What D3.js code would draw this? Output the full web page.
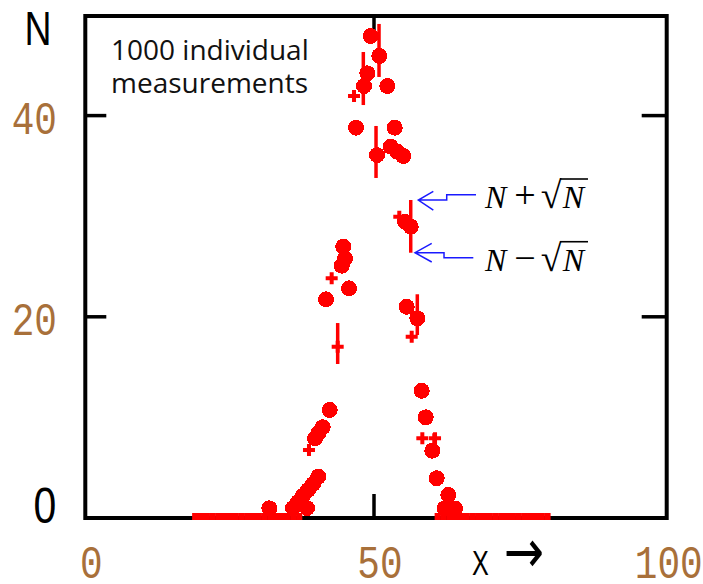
<!DOCTYPE html>
<html>
<head>
<meta charset="utf-8">
<script src="https://cdn.jsdelivr.net/npm/d3@7"></script>
<style>
  body { margin: 0; background: #fff; }
</style>
</head>
<body>
<div id="chart"></div>
<script>
// filled dots (x, N)
const dotX = [49.43, 50.92, 48.84, 48.27, 52.30, 46.88, 53.59, 50.52, 52.89, 54.04, 55.07,
              55.37, 56.36, 44.68, 44.98, 44.41, 45.67, 41.69, 55.66, 57.50,
              58.26, 58.95, 60.10, 60.86, 62.87, 62.21, 64.03,
              42.33, 41.11, 40.35, 39.78, 40.35, 39.44, 38.57, 37.70, 36.84, 35.97, 38.40, 31.87];
const dotN = [47.91, 45.93, 44.20, 42.94, 42.94, 38.80, 38.80, 36.08, 36.91, 36.41, 35.98,
              29.45, 28.96, 26.97, 25.81, 25.08, 22.83, 21.74, 21.00, 19.85,
              12.65, 10.01, 6.69, 3.95, 2.29, 0.95, 0.95,
              10.74, 9.02, 8.42, 7.92, 4.11, 3.38, 2.78, 2.19, 1.59, 0.99, 0.99, 0.96];

// small crosses (x, N)
const plusX = [46.54, 54.38, 42.67, 43.71, 56.53, 58.37, 60.57, 38.74];
const plusN = [41.95, 29.95, 23.83, 17.03, 18.02, 7.92, 7.92, 6.76];

// error bars (x, low, high)
const errX  = [50.87, 48.15, 50.35, 56.36, 43.71, 57.50, 60.39];
const errLo = [43.84, 41.05, 33.80, 26.37, 15.31, 18.19, 6.09];
const errHi = [49.11, 46.32, 38.97, 31.61, 19.38, 22.24, 8.42];

// empty bins (N = 0)
const zeroBins = [19, 20, 21, 22, 23, 24, 25, 26, 27, 28, 29, 30, 31, 32, 33, 34, 35, 36, 37,
                  61, 62, 63, 64, 65, 66, 67, 68, 69, 70, 71, 72, 73, 74, 75, 76, 77, 78, 79, 80];

const xTicks = [0, 50, 100];
const yTicks = [20, 40];
const xMarks = [50];

const W = 703, H = 584;
const plot = { left: 85.3, right: 666.7, top: 16, bottom: 518 };

const svg = d3.select("#chart").append("svg")
    .attr("width", W)
    .attr("height", H);

const x = d3.scaleLinear().domain([0, 100]).range([85.3, 662.7]);
const y = d3.scaleLinear().domain([0, 50]).range([518, 15]);

const red = "#ff0000";
const tickColor = "#a8703a";

// frame
svg.append("rect")
    .attr("x", plot.left).attr("y", plot.top)
    .attr("width", plot.right - plot.left)
    .attr("height", plot.bottom - plot.top)
    .attr("fill", "none")
    .attr("stroke", "#000")
    .attr("stroke-width", 4);

// inner ticks
yTicks.forEach(v => {
    svg.append("line").attr("x1", plot.left).attr("x2", plot.left + 21)
        .attr("y1", y(v)).attr("y2", y(v)).attr("stroke", "#000").attr("stroke-width", 3.5);
    svg.append("line").attr("x1", plot.right - 25).attr("x2", plot.right)
        .attr("y1", y(v)).attr("y2", y(v)).attr("stroke", "#000").attr("stroke-width", 3.5);
});
xMarks.forEach(v => {
    svg.append("line").attr("x1", x(v)).attr("x2", x(v))
        .attr("y1", plot.bottom).attr("y2", plot.bottom - 24).attr("stroke", "#000").attr("stroke-width", 3.5);
    svg.append("line").attr("x1", x(v)).attr("x2", x(v))
        .attr("y1", plot.top).attr("y2", plot.top + 18).attr("stroke", "#000").attr("stroke-width", 3.5);
});

// tick labels
svg.selectAll(".xlab")
    .data(xTicks)
    .enter()
    .append("text")
    .attr("class", "xlab")
    .attr("transform", d => `translate(${x(d) + 6},578) scale(0.82,1)`)
    .attr("text-anchor", "middle")
    .style("font-family", "Liberation Mono")
    .style("font-size", "46px")
    .style("fill", tickColor)
    .text(d => d);

svg.selectAll(".ylab")
    .data(yTicks)
    .enter()
    .append("text")
    .attr("class", "ylab")
    .attr("transform", d => `translate(57,${y(d) + 18}) scale(0.82,1)`)
    .attr("text-anchor", "end")
    .style("font-family", "Liberation Mono")
    .style("font-size", "46px")
    .style("fill", tickColor)
    .text(d => d);

// black labels
svg.append("text")
    .attr("transform", `translate(38,45) scale(0.78,1)`)
    .attr("text-anchor", "middle")
    .style("font-family", "Liberation Sans")
    .style("font-size", "48px")
    .text("N");

svg.append("text")
    .attr("transform", `translate(45,${y(0) + 5}) scale(0.82,1)`)
    .attr("text-anchor", "middle")
    .style("font-family", "Liberation Sans")
    .style("font-size", "50px")
    .text("0");

svg.append("text")
    .attr("transform", `translate(480.5,575) scale(0.7,1)`)
    .attr("text-anchor", "middle")
    .style("font-family", "Liberation Sans")
    .style("font-size", "36px")
    .text("X");

svg.append("text")
    .attr("transform", `translate(524,572) scale(0.8,1)`)
    .attr("text-anchor", "middle")
    .style("font-family", "DejaVu Sans")
    .style("font-size", "60px")
    .text("\u2192");

// note
const note = svg.append("text")
    .style("font-family", "Open Sans")
    .style("font-size", "28px")
    .style("fill", "#111");
note.append("tspan").attr("x", 111).attr("y", 59.5).text("1000 individual");
note.append("tspan").attr("x", 111).attr("y", 93).text("measurements");

// empty bins
svg.selectAll(".zero")
    .data(zeroBins)
    .enter()
    .append("rect")
    .attr("class", "zero")
    .attr("x", d => x(d - 0.5))
    .attr("width", d => x(d + 0.5) - x(d - 0.5) + 0.5)
    .attr("y", y(0) - 5)
    .attr("height", 7)
    .attr("fill", red);

// error bars
svg.selectAll(".err")
    .data(errX.map((v, i) => ({ x: v, lo: errLo[i], hi: errHi[i] })))
    .enter()
    .append("line")
    .attr("class", "err")
    .attr("x1", d => x(d.x)).attr("x2", d => x(d.x))
    .attr("y1", d => y(d.lo)).attr("y2", d => y(d.hi))
    .attr("stroke", red)
    .attr("stroke-width", 3.5);

// dots
const dot = d3.symbol(d3.symbolCircle).size(Math.PI * 8 * 8);
svg.selectAll(".dot")
    .data(dotX.map((v, i) => ({ x: v, n: dotN[i] })))
    .enter()
    .append("path")
    .attr("class", "dot")
    .attr("d", dot)
    .attr("transform", d => `translate(${x(d.x)},${y(d.n)})`)
    .attr("fill", red)
    .attr("shape-rendering", "crispEdges");

// small crosses
svg.selectAll(".plus")
    .data(plusX.map((v, i) => ({ x: v, n: plusN[i] })))
    .enter()
    .append("path")
    .attr("class", "plus")
    .attr("d", "M-6,-2H-2V-6H2V-2H6V2H2V6H-2V2H-6Z")
    .attr("transform", d => `translate(${x(d.x)},${y(d.n)})`)
    .attr("fill", red);

// annotation of the error bar at N = 29
const k = 3;
const up = { x: x(errX[k]) + 7.6, y: y(errHi[k]) };
const dn = { x: x(errX[k]) + 4.3, y: y(errLo[k]) };
const blue = "#1a1aff";

svg.append("path")
    .attr("d", `M${up.x + 15},${up.y - 8.6}L${up.x},${up.y}L${up.x + 15},${up.y + 10}` +
               `M${up.x},${up.y}H${up.x + 28.4}V${up.y - 5.3}H${up.x + 57.7}`)
    .attr("fill", "none").attr("stroke", blue).attr("stroke-width", 1.5);

svg.append("path")
    .attr("d", `M${dn.x + 16.7},${dn.y - 9.4}L${dn.x},${dn.y}L${dn.x + 16.7},${dn.y + 9.3}` +
               `M${dn.x},${dn.y}H${dn.x + 29}V${dn.y + 5}H${dn.x + 58.3}`)
    .attr("fill", "none").attr("stroke", blue).attr("stroke-width", 1.5);

function formula(g, sign, bx, by) {
    const t = g.append("text")
        .attr("x", bx).attr("y", by)
        .style("font-family", "Liberation Serif")
        .style("font-size", "32px");
    t.append("tspan").style("font-style", "italic").text("N");
    t.append("tspan").attr("dx", 8).style("font-size", "38px").text(sign);
    t.append("tspan").attr("dx", 5).style("font-size", "38px").text("\u221A");
    t.append("tspan").style("font-style", "italic").attr("dx", 1).text("N");
    const node = t.node();
    const r = node.getExtentOfChar(2);
    const n2 = node.getExtentOfChar(3);
    g.append("line")
        .attr("x1", r.x + r.width - 1.5).attr("x2", n2.x + n2.width + 4)
        .attr("y1", by - 29).attr("y2", by - 29)
        .attr("stroke", "#000").attr("stroke-width", 1.6);
}
formula(svg, "+", 485, up.y + 8);
formula(svg, "\u2212", 485, dn.y + 18);
</script>
</body>
</html>
